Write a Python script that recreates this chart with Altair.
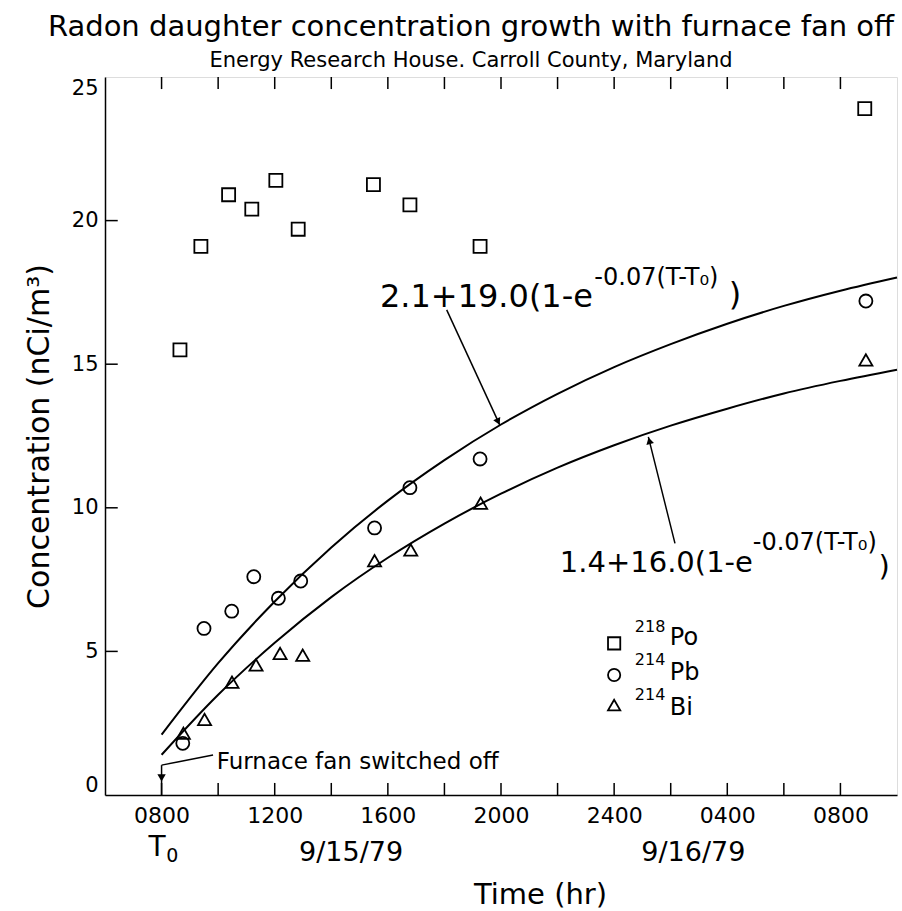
import altair as alt
import pandas as pd

FONT = "DejaVu Sans"

# ---------------- data ----------------
series_names = ["218Po", "214Pb", "214Bi"]
po_hours = [8.65, 9.39, 10.37, 11.19, 12.04, 12.83, 15.49, 16.78, 19.26, 32.86]
po_vals = [15.5, 19.1, 20.9, 20.4, 21.4, 19.7, 21.25, 20.55, 19.1, 23.9]
pb_hours = [8.75, 9.5, 10.48, 11.26, 12.13, 12.92, 15.53, 16.78, 19.26, 32.9]
pb_vals = [1.8, 5.8, 6.4, 7.6, 6.85, 7.45, 9.3, 10.7, 11.7, 17.2]
bi_hours = [8.77, 9.52, 10.49, 11.34, 12.19, 12.99, 15.53, 16.81, 19.28, 32.9]
bi_vals = [2.15, 2.63, 3.93, 4.53, 4.93, 4.87, 8.16, 8.53, 10.16, 15.15]

# fitted curves, every two hours
curve_hours = [8, 10, 12, 14, 16, 18, 20, 22, 24, 26, 28, 30, 32, 34]
upper_curve = [2.1, 4.59, 6.74, 8.62, 10.25, 11.66, 12.9, 13.97, 14.9, 15.7, 16.41, 17.03, 17.56, 18.02]
lower_curve = [1.4, 3.49, 5.3, 6.89, 8.26, 9.45, 10.49, 11.4, 12.18, 12.86, 13.45, 13.98, 14.42, 14.81]

# axes
x_domain = [6, 34]
y_domain = [0, 25]
x_label_hours = [8, 12, 16, 20, 24, 28, 32]
x_tick_labels = ["0800", "1200", "1600", "2000", "2400", "0400", "0800"]
x_tick_hours = [8, 10, 12, 14, 16, 18, 20, 22, 24, 26, 28, 30, 32]
y_label_values = [0, 5, 10, 15, 20, 25]
y_tick_values = [5, 10, 15, 20]

date_text = ["9/15/79", "9/16/79"]
date_hours = [14.7, 26.8]
t0_text = ["T", "0"]
t0_hours = [7.84, 8.38]
t0_vals = [-1.85, -2.14]
t0_sizes = [28, 19]

# annotations (text, x-hours, y-value)
ann_main = ["2.1+19.0(1-e", "1.4+16.0(1-e"]
ann_main_x = [15.72, 22.08]
ann_main_y = [17.34, 8.08]
ann_main_size = [32, 29]
ann_exp = ["-0.07(T-T\u2080)", "-0.07(T-T\u2080)"]
ann_exp_x = [23.3, 28.9]
ann_exp_y = [18.0, 8.77]
ann_close_x = [28.27, 33.55]
ann_close_y = [17.4, 7.95]

arrow_x1 = [18.08, 26.15, 8.0, 8.0]
arrow_y1 = [16.89, 8.76, 0.0, 1.04]
arrow_x2 = [19.96, 25.21, 8.0, 9.82]
arrow_y2 = [12.88, 12.47, 1.04, 1.39]

furnace_text = "Furnace fan switched off"
furnace_x, furnace_y = 9.95, 1.16

legend_sym_x = 24.0
legend_sym_y = [5.28, 4.18, 3.13]
legend_sup = ["218", "214", "214"]
legend_sup_x = 24.73
legend_sup_y = [5.86, 4.70, 3.48]
legend_elem = ["Po", "Pb", "Bi"]
legend_elem_x = 25.97
legend_elem_y = [5.47, 4.25, 3.03]

# ---------------- helpers ----------------
xs = alt.Scale(domain=x_domain, nice=False, zero=False)
ys = alt.Scale(domain=y_domain, nice=False, zero=False)
shape_scale = alt.Scale(domain=series_names, range=["square", "circle", "triangle-up"])

label_expr = "[" + ",".join("'%s'" % s for s in x_tick_labels) + "][(datum.value-8)/4]"

x_axis = alt.Axis(values=x_label_hours, labelExpr=label_expr, ticks=False, tickSize=0,
                  grid=False, domain=True, domainColor="black", domainWidth=1.5,
                  labelFont=FONT, labelFontSize=22, labelColor="black", labelPadding=10,
                  labelFlush=False, labelOverlap=False,
                  title="Time (hr)", titleFont=FONT, titleFontSize=29, titleFontWeight="normal",
                  titleColor="black", titleX=435, titleY=99, titleBaseline="middle",
                  titleAlign="center")
y_axis = alt.Axis(values=y_label_values, ticks=False, tickSize=0, grid=False, domain=True,
                  domainColor="black", domainWidth=1.5, labelFont=FONT, labelFontSize=21,
                  labelColor="black", labelPadding=7, labelFlush=True, labelOverlap=False,
                  title="Concentration (nCi/m\u00b3)", titleFont=FONT, titleFontSize=30,
                  titleFontWeight="normal", titleColor="black", titleX=-66, titleY=359,
                  titleAngle=270, titleBaseline="middle", titleAlign="center")


def X(field):
    return alt.X(field + ":Q", scale=xs, axis=x_axis)


def Y(field):
    return alt.Y(field + ":Q", scale=ys, axis=y_axis)


def text_layer(df, size, align="left"):
    return alt.Chart(df).mark_text(font=FONT, fontSize=size, color="black", align=align,
                                   baseline="middle").encode(x=X("h"), y=Y("v"), text="t:N")


points_df = pd.concat([
    pd.DataFrame({"h": po_hours, "v": po_vals, "s": series_names[0]}),
    pd.DataFrame({"h": pb_hours, "v": pb_vals, "s": series_names[1]}),
    pd.DataFrame({"h": bi_hours, "v": bi_vals, "s": series_names[2]}),
])

points = alt.Chart(points_df).mark_point(filled=False, color="black", strokeWidth=1.8,
                                         size=170, opacity=1).encode(
    x=X("h"), y=Y("v"),
    shape=alt.Shape("s:N", scale=shape_scale, legend=None),
)

curves_df = pd.concat([
    pd.DataFrame({"h": curve_hours, "v": upper_curve, "c": "upper"}),
    pd.DataFrame({"h": curve_hours, "v": lower_curve, "c": "lower"}),
])
curves = alt.Chart(curves_df).mark_line(color="black", strokeWidth=2, interpolate="monotone").encode(
    x=X("h"), y=Y("v"), detail="c:N",
)

# inward tick marks
bt = pd.DataFrame({"h": x_tick_hours, "y1": 0.0, "y2": 0.42})
tt = pd.DataFrame({"h": x_tick_hours, "y1": 25.0, "y2": 24.58})
xticks = alt.Chart(pd.concat([bt, tt])).mark_rule(color="black", strokeWidth=1.5).encode(
    x=X("h"), y=Y("y1"), y2="y2:Q")
lt = pd.DataFrame({"v": y_tick_values, "x1": x_domain[0], "x2": x_domain[0] + 0.45})
yticks = alt.Chart(lt).mark_rule(color="black", strokeWidth=1.5).encode(
    y=Y("v"), x=X("x1"), x2="x2:Q")

# second row of x labels
dates = text_layer(pd.DataFrame({"h": date_hours, "t": date_text, "v": -2.02}), 27, "center")
t0_layers = [text_layer(pd.DataFrame({"h": [t0_hours[i]], "v": [t0_vals[i]], "t": [t0_text[i]]}),
                        t0_sizes[i], "center") for i in range(2)]

# formula annotations
layers_ann = []
for i in range(2):
    layers_ann.append(text_layer(pd.DataFrame({"h": [ann_main_x[i]], "v": [ann_main_y[i]],
                                               "t": [ann_main[i]]}), ann_main_size[i]))
    layers_ann.append(text_layer(pd.DataFrame({"h": [ann_exp_x[i]], "v": [ann_exp_y[i]],
                                               "t": [ann_exp[i]]}), 24))
    layers_ann.append(text_layer(pd.DataFrame({"h": [ann_close_x[i]], "v": [ann_close_y[i]],
                                               "t": [")"]}), ann_main_size[i], "center"))

arrows_df = pd.DataFrame({"x1": arrow_x1, "y1": arrow_y1, "x2": arrow_x2, "y2": arrow_y2})
arrows = alt.Chart(arrows_df).mark_rule(color="black", strokeWidth=1.5).encode(
    x=X("x1"), x2="x2:Q", y=Y("y1"), y2="y2:Q")

head_up = alt.Chart(pd.DataFrame({"h": [19.90], "v": [13.0]})).mark_point(
    shape="triangle-up", filled=True, color="black", size=60, angle=155, opacity=1).encode(
    x=X("h"), y=Y("v"))
head_lo = alt.Chart(pd.DataFrame({"h": [25.245], "v": [12.335]})).mark_point(
    shape="triangle-up", filled=True, color="black", size=60, angle=346, opacity=1).encode(
    x=X("h"), y=Y("v"))
head_f = alt.Chart(pd.DataFrame({"h": [8.0], "v": [0.6]})).mark_point(
    shape="triangle-down", filled=True, color="black", size=70, opacity=1).encode(
    x=X("h"), y=Y("v"))

furnace = text_layer(pd.DataFrame({"h": [furnace_x], "v": [furnace_y], "t": [furnace_text]}), 23)

# custom legend
leg_sym = alt.Chart(pd.DataFrame({"h": legend_sym_x, "v": legend_sym_y, "s": series_names})).mark_point(
    filled=False, color="black", strokeWidth=1.8, size=150, opacity=1).encode(
    x=X("h"), y=Y("v"),
    shape=alt.Shape("s:N", scale=shape_scale, legend=None))
leg_sup = text_layer(pd.DataFrame({"h": legend_sup_x, "v": legend_sup_y, "t": legend_sup}), 16)
leg_el = text_layer(pd.DataFrame({"h": legend_elem_x, "v": legend_elem_y, "t": legend_elem}), 24)

chart = alt.layer(points, curves, xticks, yticks, dates, *t0_layers, *layers_ann, arrows,
                  head_up, head_lo, head_f, furnace, leg_sym, leg_sup, leg_el).properties(
    width=792, height=718,
    title=alt.TitleParams(text="Radon daughter concentration growth with furnace fan off",
                          subtitle="Energy Research House. Carroll County, Maryland",
                          font=FONT, fontSize=29, fontWeight="normal", color="black",
                          subtitleFont=FONT, subtitleFontSize=21, subtitleColor="black",
                          subtitlePadding=8, anchor="middle", dx=-30, offset=5),
    autosize=alt.AutoSizeParams(type="none"),
    padding={"left": 105, "top": 77, "right": 5, "bottom": 116},
).configure_view(stroke="black", strokeWidth=1.5).configure(background="white")

chart.save("out.html", embed_options={"renderer": "svg", "actions": False})
